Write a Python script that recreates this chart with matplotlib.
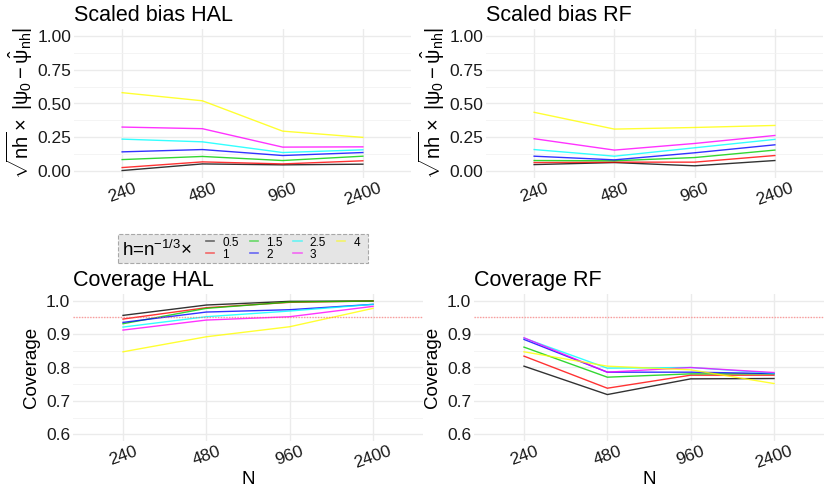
import numpy as np
import matplotlib
matplotlib.use("Agg")
import matplotlib.pyplot as plt
from matplotlib.lines import Line2D
from matplotlib.patches import Rectangle

plt.rcParams['font.family'] = ['Liberation Sans', 'DejaVu Sans']
plt.rcParams['mathtext.fontset'] = 'custom'
plt.rcParams['mathtext.rm'] = 'Liberation Sans'
plt.rcParams['mathtext.it'] = 'Liberation Sans'
plt.rcParams['mathtext.bf'] = 'Liberation Sans:bold'

n_labels = ['240', '480', '960', '2400']
h_labels = ['0.5', '1', '1.5', '2', '2.5', '3', '4']
h_colors = ['#000000', '#FF0000', '#00CD00', '#0000FF', '#00FFFF', '#FF00FF', '#FFFF00']

# scaled bias, one row per h
bias_hal = [
    [0.005, 0.054, 0.047, 0.052],
    [0.027, 0.069, 0.054, 0.077],
    [0.086, 0.109, 0.079, 0.111],
    [0.143, 0.160, 0.116, 0.138],
    [0.237, 0.217, 0.138, 0.158],
    [0.326, 0.314, 0.178, 0.180],
    [0.580, 0.520, 0.296, 0.250],
]
bias_rf = [
    [0.049, 0.064, 0.040, 0.079],
    [0.064, 0.067, 0.067, 0.116],
    [0.079, 0.077, 0.101, 0.156],
    [0.111, 0.084, 0.136, 0.195],
    [0.160, 0.111, 0.173, 0.235],
    [0.240, 0.156, 0.205, 0.264],
    [0.435, 0.311, 0.323, 0.338],
]
cov_hal = [
    [0.956, 0.987, 0.998, 0.999],
    [0.945, 0.979, 0.995, 0.999],
    [0.931, 0.977, 0.996, 0.999],
    [0.935, 0.966, 0.973, 0.989],
    [0.921, 0.952, 0.969, 0.989],
    [0.912, 0.942, 0.952, 0.983],
    [0.847, 0.892, 0.922, 0.977],
]
cov_rf = [
    [0.804, 0.719, 0.766, 0.767],
    [0.834, 0.738, 0.777, 0.777],
    [0.861, 0.771, 0.781, 0.781],
    [0.884, 0.786, 0.786, 0.782],
    [0.888, 0.798, 0.800, 0.783],
    [0.889, 0.786, 0.800, 0.785],
    [0.847, 0.804, 0.793, 0.752],
]
nominal = 0.95

W, H = 830, 498
fig = plt.figure(figsize=(W / 100, H / 100), dpi=100)


def px_axes(x0, y0, x1, y1):
    return fig.add_axes([x0 / W, 1 - y1 / H, (x1 - x0) / W, (y1 - y0) / H])


def style(ax, ylim, major, minor, fmt):
    x = np.arange(len(n_labels))
    ax.set_xlim(-0.6, len(n_labels) - 0.4)
    ax.set_ylim(*ylim)
    ax.set_xticks(x)
    ax.set_xticklabels(n_labels, rotation=20, fontsize=12.5, color='#1a1a1a')
    ax.set_yticks(major)
    ax.set_yticklabels([fmt % v for v in major], fontsize=12.5, color='#1a1a1a')
    ax.set_yticks(minor, minor=True)
    ax.tick_params(which='both', length=0, pad=2)
    ax.grid(True, which='major', color='#EBEBEB', lw=1.0)
    ax.grid(True, which='minor', axis='y', color='#F2F2F2', lw=0.6)
    ax.set_axisbelow(True)
    for s in ax.spines.values():
        s.set_visible(False)


def draw(ax, data):
    x = np.arange(len(n_labels))
    for vals, c in zip(data, h_colors):
        ax.plot(x, vals, color=c, lw=1.0, alpha=0.8)


bias_lab = r'$\sqrt{nh}\times\ |\psi_0-\hat{\psi}_{nh}|$'

ax1 = px_axes(74, 29, 411, 178)
draw(ax1, bias_hal)
style(ax1, (-0.05, 1.05), [0, 0.25, 0.5, 0.75, 1.0], [0.125, 0.375, 0.625, 0.875], '%.2f')
ax1.set_ylabel(bias_lab, fontsize=14.5, labelpad=2)
ax1.set_title('Scaled bias HAL', loc='left', fontsize=15.5, pad=6)

ax2 = px_axes(486, 29, 823, 178)
draw(ax2, bias_rf)
style(ax2, (-0.05, 1.05), [0, 0.25, 0.5, 0.75, 1.0], [0.125, 0.375, 0.625, 0.875], '%.2f')
ax2.set_ylabel(bias_lab, fontsize=14.5, labelpad=2)
ax2.set_title('Scaled bias RF', loc='left', fontsize=15.5, pad=6)

cov_major = [0.6, 0.7, 0.8, 0.9, 1.0]
cov_minor = [0.65, 0.75, 0.85, 0.95]

ax3 = px_axes(73, 294, 423, 441)
draw(ax3, cov_hal)
ax3.axhline(nominal, color='#FF6060', lw=1.0, ls=(0, (1, 1)), alpha=0.6)
style(ax3, (0.58, 1.02), cov_major, cov_minor, '%.1f')
ax3.set_ylabel('Coverage', fontsize=13.5, labelpad=4)
ax3.set_xlabel('N', fontsize=13.5, labelpad=0)
ax3.set_title('Coverage HAL', loc='left', fontsize=15.5, pad=6)

ax4 = px_axes(474, 294, 824, 441)
draw(ax4, cov_rf)
ax4.axhline(nominal, color='#FF6060', lw=1.0, ls=(0, (1, 1)), alpha=0.6)
style(ax4, (0.58, 1.02), cov_major, cov_minor, '%.1f')
ax4.set_ylabel('Coverage', fontsize=13.5, labelpad=4)
ax4.set_xlabel('N', fontsize=13.5, labelpad=0)
ax4.set_title('Coverage RF', loc='left', fontsize=15.5, pad=6)

# legend box with title on the left
fig.patches.append(Rectangle((118 / W, 1 - 263 / H), (368 - 118) / W, (263 - 234) / H,
                             transform=fig.transFigure, facecolor='#E5E5E5',
                             edgecolor='#A8A8A8', lw=0.8, ls='--', zorder=0))
fig.text(122 / W, 1 - 250 / H, r'h=n$^{-1/3}$$\times$', fontsize=13.5, va='center', ha='left')
handles = [Line2D([], [], color=c, lw=1.2, alpha=0.55) for c in h_colors]
fig.legend(handles, h_labels, ncol=4, loc='center left', bbox_to_anchor=(206 / W, 1 - 248.5 / H),
           frameon=False, fontsize=8.5, handlelength=0.7, handletextpad=0.7, columnspacing=0.9,
           labelspacing=0.0, borderpad=0, borderaxespad=0)

fig.savefig('out.png', dpi=100)
